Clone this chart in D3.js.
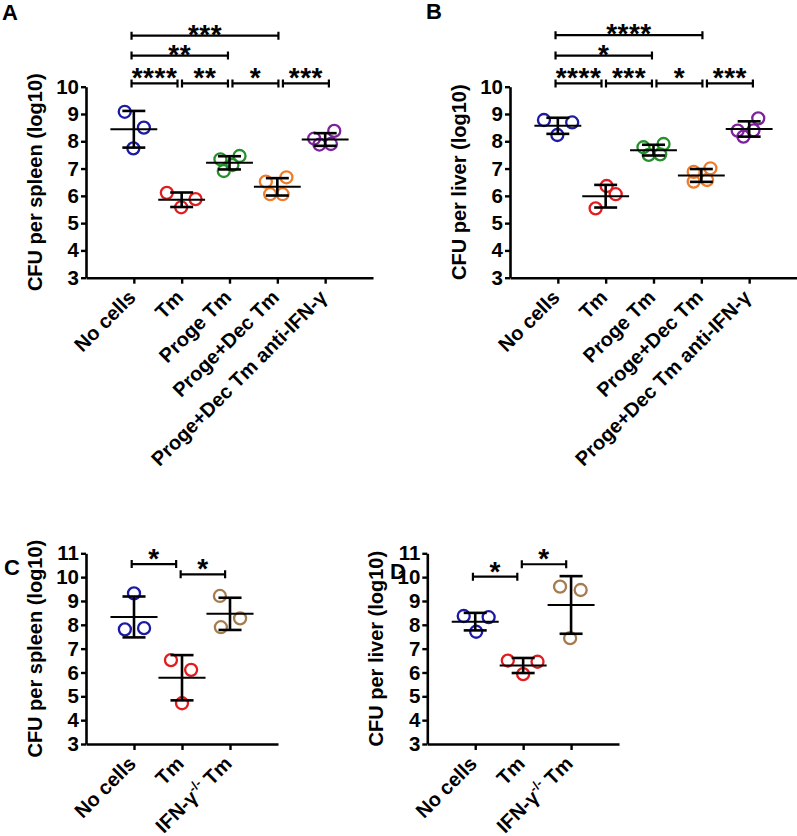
<!DOCTYPE html>
<html><head><meta charset="utf-8">
<script src="https://cdn.jsdelivr.net/npm/d3@7"></script>
<style>body{margin:0;background:#fff}svg{display:block}</style>
</head><body>
<script>
// ---------- data ----------
const catsAB = ["No cells", "Tm", "Proge Tm", "Proge+Dec Tm", "Proge+Dec Tm anti-IFN-γ"];
const catsCD = ["No cells", "Tm", "IFN-γ-/- Tm"];
const ticksAB = [3, 4, 5, 6, 7, 8, 9, 10];
const ticksCD = [3, 4, 5, 6, 7, 8, 9, 10, 11];
const colorsAB = ["#1a1aa6", "#e31b1f", "#25902b", "#f27b27", "#7d229c"];
const colorsCD = ["#1a1aa6", "#e31b1f", "#a57c4f"];

// CFU (log10) per animal
const spleenA = [[9.08, 8.50, 7.74], [6.11, 5.88, 5.58], [7.34, 7.46, 6.91, 7.13], [6.52, 6.68, 6.06, 6.06], [8.10, 8.38, 7.88, 7.90]];
const liverB  = [[8.78, 8.69, 8.23], [6.36, 6.06, 5.54], [7.78, 7.90, 7.50, 7.52], [6.88, 7.01, 6.52, 6.58], [8.39, 8.84, 8.17, 8.40]];
const spleenC = [[9.32, 7.81, 7.86], [6.52, 6.11, 4.71], [9.21, 8.27, 7.90]];
const liverD  = [[8.37, 8.32, 7.71], [6.50, 6.45, 5.93], [9.60, 9.46, 7.44]];

// horizontal scatter of each point (fraction of category step)
const spreadA = [[-0.19, 0.21, -0.01], [-0.31, 0.29, -0.01], [-0.19, 0.21, -0.12, 0.06], [-0.24, 0.19, -0.15, 0.11], [-0.23, 0.19, -0.12, 0.12]];
const spreadB = [[-0.29, 0.30, -0.01], [0.02, 0.21, -0.21], [-0.21, 0.21, -0.10, 0.14], [-0.16, 0.19, -0.16, 0.12], [-0.24, 0.19, -0.12, 0.09]];
const spreadC = [[0.00, -0.19, 0.21], [-0.23, 0.19, 0.00], [-0.21, 0.21, -0.19]];
const spreadD = [[-0.24, 0.28, 0.02], [-0.32, 0.30, 0.00], [-0.23, 0.20, -0.02]];

// significance: [group i, group j, bracket height (log10), label]
const sigA = [[0, 1, 10.12, "****"], [1, 2, 10.12, "**"], [2, 3, 10.12, "*"], [3, 4, 10.12, "***"], [0, 2, 11.14, "**"], [0, 3, 11.87, "***"]];
const sigB = [[0, 1, 10.12, "****"], [1, 2, 10.12, "***"], [2, 3, 10.12, "*"], [3, 4, 10.12, "***"], [0, 2, 11.14, "*"], [0, 3, 11.89, "****"]];
const sigC = [[0, 1, 10.55, "*"], [1, 2, 10.12, "*"]];
const sigD = [[0, 1, 10.02, "*"], [1, 2, 10.54, "*"]];

// ---------- drawing ----------
const FONT = "'Liberation Sans', Arial, Helvetica, sans-serif";
const svg = d3.select("body").append("svg").attr("width", 797).attr("height", 836);

const panels = [
  {letter: "A", lx: 2, ly: 20, left: 86, right: 373, top: 86.7, bottom: 277.7, domain: [3, 10], ticks: ticksAB,
   cats: catsAB, colors: colorsAB, data: spleenA, spread: spreadA, sig: sigA, stretch: 1.055, ylabel: "CFU per spleen (log10)"},
  {letter: "B", lx: 426, ly: 19, left: 510, right: 797, top: 86.7, bottom: 277.7, domain: [3, 10], ticks: ticksAB,
   cats: catsAB, colors: colorsAB, data: liverB, spread: spreadB, sig: sigB, stretch: 1.055, ylabel: "CFU per liver (log10)"},
  {letter: "C", lx: 4, ly: 575, left: 86, right: 278, top: 553.3, bottom: 744, domain: [3, 11], ticks: ticksCD,
   cats: catsCD, colors: colorsCD, data: spleenC, spread: spreadC, sig: sigC, stretch: 1.02, ylabel: "CFU per spleen (log10)"},
  {letter: "D", lx: 390, ly: 579, left: 427.3, right: 619, top: 553.3, bottom: 744, domain: [3, 11], ticks: ticksCD,
   cats: catsCD, colors: colorsCD, data: liverD, spread: spreadD, sig: sigD, stretch: 1.02, ylabel: "CFU per liver (log10)"}
];

function label(sel, txt) {
  const m = txt.match(/^(.*γ)(-\/-)(.*)$/);
  if (!m) { sel.text(txt); return; }
  sel.append("tspan").text(m[1]);
  sel.append("tspan").attr("dy", -8).attr("font-size", 13).text(m[2]);
  sel.append("tspan").attr("dy", 8).text(m[3]);
}

panels.forEach(p => {
  const g = svg.append("g");
  const y = d3.scaleLinear().domain(p.domain).range([p.bottom, p.top]);
  const x = d3.scalePoint().domain(p.cats).range([p.left, p.right]).padding(1);
  const step = x.step();

  // panel letter
  g.append("text").attr("x", p.lx).attr("y", p.ly).attr("font-family", FONT).attr("font-weight", "bold")
    .attr("font-size", 22).text(p.letter);

  // axes
  const ya = g.append("g").attr("transform", `translate(${p.left},0)`)
    .call(d3.axisLeft(y).tickValues(p.ticks).tickSize(5).tickPadding(2).tickSizeOuter(0).tickFormat(d3.format("d")));
  const xa = g.append("g").attr("transform", `translate(0,${p.bottom})`)
    .call(d3.axisBottom(x).tickSize(6).tickSizeOuter(0).tickFormat(""));
  [ya, xa].forEach(a => {
    a.select(".domain").attr("stroke", "#000").attr("stroke-width", 2.6);
    a.selectAll(".tick line").attr("stroke", "#000").attr("stroke-width", 2.4);
  });
  ya.selectAll(".tick text").attr("font-family", FONT).attr("font-weight", "bold").attr("font-size", 20.5).attr("fill", "#000");

  // category labels
  p.cats.forEach(c => {
    const t = g.append("text")
      .attr("transform", `translate(${x(c) + 3},${p.bottom + 21}) rotate(-45)`)
      .attr("text-anchor", "end").attr("font-family", FONT).attr("font-weight", "bold").attr("font-size", 20);
    label(t, c);
  });

  // y label
  g.append("text").attr("transform", `translate(${p.left - 44},${(p.top + p.bottom) / 2}) rotate(-90)`)
    .attr("text-anchor", "middle").attr("font-family", FONT).attr("font-weight", "bold").attr("font-size", 20)
    .text(p.ylabel);

  // points
  p.data.forEach((vals, i) => {
    const cx = x(p.cats[i]);
    g.selectAll(null).data(vals).enter().append("circle")
      .attr("cx", (d, k) => cx + p.spread[i][k] * step)
      .attr("cy", d => y(d)).attr("r", 6)
      .attr("fill", "none").attr("stroke", p.colors[i]).attr("stroke-width", 2.3);
  });
  // mean ± SD
  p.data.forEach((vals, i) => {
    const cx = x(p.cats[i]);
    const m = d3.mean(vals), sd = d3.deviation(vals);
    const hw = 0.49 * step, cw = 0.24 * step;
    g.append("line").attr("x1", cx).attr("x2", cx).attr("y1", y(m + sd)).attr("y2", y(m - sd))
      .attr("stroke", "#000").attr("stroke-width", 2.6);
    [m + sd, m - sd].forEach(v => g.append("line").attr("x1", cx - cw).attr("x2", cx + cw)
      .attr("y1", y(v)).attr("y2", y(v)).attr("stroke", "#000").attr("stroke-width", 2.6));
    g.append("line").attr("x1", cx - hw).attr("x2", cx + hw).attr("y1", y(m)).attr("y2", y(m))
      .attr("stroke", "#000").attr("stroke-width", 2);
  });

  // significance brackets
  const x0 = x(p.cats[0]) - 2.3;
  const xb = k => x0 + k * step * p.stretch;
  p.sig.forEach(([i, j, h, lab]) => {
    const a = xb(i), b = xb(j) - 4.5, yy = y(h);
    g.append("path").attr("d", `M${a},${yy - 4}V${yy + 4}M${a},${yy}H${b}M${b},${yy - 4}V${yy + 4}`)
      .attr("fill", "none").attr("stroke", "#000").attr("stroke-width", 2.2);
    const gap = (j - i === 1) ? 12 : 8;
    g.append("text").attr("x", (a + b) / 2).attr("y", yy - gap + 16)
      .attr("text-anchor", "middle").attr("font-family", FONT).attr("font-weight", "bold").attr("font-size", 28)
      .attr("letter-spacing", 0.5).text(lab);
  });
});
</script>
</body></html>
